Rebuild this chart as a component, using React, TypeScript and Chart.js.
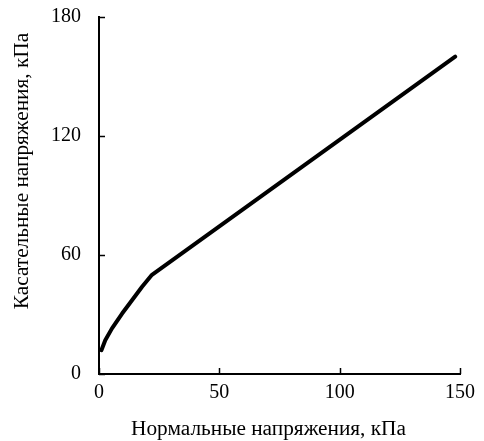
import React, { useEffect, useRef } from "react";
import { Chart, registerables } from "chart.js";

Chart.register(...registerables);

const xValues = [1, 2.6, 5.4, 9.6, 13.8, 17.9, 22, 148];
const yValues = [12, 17, 23, 30.5, 37.3, 44, 50, 160];
const xTicks = [0, 50, 100, 150];
const yTicks = [0, 60, 120, 180];
const xTitle = "Нормальные напряжения, кПа";
const yTitle = "Касательные напряжения, кПа";

const FONT = "'Liberation Serif', 'Times New Roman', serif";

const tickPlugin = {
  id: "innerTicksAndTitles",
  afterDraw(chart: any) {
    const { ctx, chartArea, scales } = chart;
    ctx.save();
    ctx.strokeStyle = "#000";
    ctx.lineWidth = 1.5;
    for (const v of xTicks) {
      const px = Math.round(scales.x.getPixelForValue(v)) + 0.5;
      ctx.beginPath();
      ctx.moveTo(px, chartArea.bottom);
      ctx.lineTo(px, chartArea.bottom - 6);
      ctx.stroke();
    }
    for (const v of yTicks) {
      const py = Math.round(scales.y.getPixelForValue(v)) + 0.5;
      ctx.beginPath();
      ctx.moveTo(chartArea.left, py);
      ctx.lineTo(chartArea.left + 6, py);
      ctx.stroke();
    }
    ctx.fillStyle = "#000";
    ctx.font = `21.3px ${FONT}`;
    ctx.textAlign = "center";
    ctx.textBaseline = "middle";
    ctx.fillText(xTitle, 268.5, 429);
    ctx.translate(22, 171);
    ctx.rotate(-Math.PI / 2);
    ctx.fillText(yTitle, 0, 0);
    ctx.restore();
  },
};

export default function App() {
  const ref = useRef<HTMLCanvasElement>(null);
  useEffect(() => {
    const canvas = ref.current!;
    const chart = new Chart(canvas, {
      type: "scatter",
      data: {
        datasets: [
          {
            data: xValues.map((x, i) => ({ x, y: yValues[i] })),
            showLine: true,
            borderColor: "#000",
            borderWidth: 4,
            pointRadius: 0,
            tension: 0,
            borderCapStyle: "round",
            borderJoinStyle: "round",
          },
        ],
      },
      options: {
        animation: false,
        responsive: false,
        maintainAspectRatio: false,
        layout: { padding: { top: 17, right: 24, left: 0, bottom: 0 } },
        plugins: { legend: { display: false }, tooltip: { enabled: false } },
        scales: {
          x: {
            type: "linear",
            min: 0,
            max: 150,
            afterBuildTicks: (s: any) => {
              s.ticks = xTicks.map((v) => ({ value: v }));
            },
            afterFit: (s: any) => {
              s.height = 67;
              s.paddingLeft = 0;
              s.paddingRight = 0;
            },
            grid: { display: true, drawOnChartArea: false, drawTicks: false, tickLength: 0 },
            border: { display: true, color: "#000", width: 2 },
            ticks: { color: "#000", font: { family: FONT, size: 20 }, padding: 7, maxRotation: 0 },
          },
          y: {
            type: "linear",
            min: 0,
            max: 180,
            afterBuildTicks: (s: any) => {
              s.ticks = yTicks.map((v) => ({ value: v }));
            },
            afterFit: (s: any) => {
              s.width = 99;
              s.paddingTop = 0;
              s.paddingBottom = 0;
            },
            grid: { display: true, drawOnChartArea: false, drawTicks: false, tickLength: 0 },
            border: { display: true, color: "#000", width: 2 },
            ticks: { color: "#000", font: { family: FONT, size: 20 }, padding: 18 },
          },
        },
      },
      plugins: [tickPlugin],
    });
    return () => chart.destroy();
  }, []);
  return (
    <div style={{ position: "fixed", left: 0, top: 0, width: 484, height: 441, background: "#fff" }}>
      <canvas ref={ref} width={484} height={441} style={{ width: 484, height: 441 }} />
    </div>
  );
}
